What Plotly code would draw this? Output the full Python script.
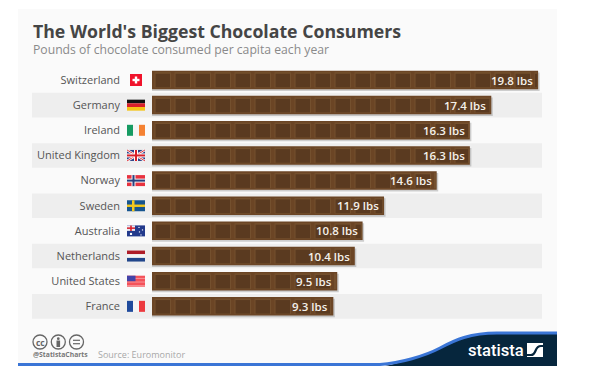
import numpy as np
import plotly.graph_objects as go

countries = ["Switzerland", "Germany", "Ireland", "United Kingdom", "Norway",
             "Sweden", "Australia", "Netherlands", "United States", "France"]
pounds = [19.8, 17.4, 16.3, 16.3, 14.6, 11.9, 10.8, 10.4, 9.5, 9.3]
value_labels = ["19.8 lbs", "17.4 lbs", "16.3 lbs", "16.3 lbs", "14.6 lbs",
                "11.9 lbs", "10.8 lbs", "10.4 lbs", "9.5 lbs", "9.3 lbs"]

W, H = 600, 380
PX = 19.5                 # pixels per pound
X0, AX = 152, 121         # pixel of value 0, pixel of the category axis
ROW0, PITCH = 80, 25.15   # first row centre, row pitch
FONT = "Open Sans"
BAR_OUT, BAR_MID, BAR_IN = "#6b4525", "#74502e", "#5a3a20"


def px(v):
    return v / W


def py(v):
    return 1 - v / H


shapes = []


def rect(x0, y0, x1, y1, color, line=None, lw=0, kind="rect", layer="below"):
    shapes.append(dict(type=kind, xref="paper", yref="paper",
                       x0=px(x0), x1=px(x1), y0=py(y0), y1=py(y1),
                       fillcolor=color, layer=layer,
                       line=dict(color=line or color, width=lw)))


def seg(x0, y0, x1, y1, color, lw):
    shapes.append(dict(type="line", xref="paper", yref="paper", layer="above",
                       x0=px(x0), x1=px(x1), y0=py(y0), y1=py(y1),
                       line=dict(color=color, width=lw)))


# card
rect(18, 9, 557, 366, "#fafafa")

# alternate stripes, on the category axis
for i in range(1, len(countries), 2):
    shapes.append(dict(type="rect", xref="paper", yref="y", layer="below",
                       x0=px(32), x1=px(542), y0=i - 0.5 + 0.01, y1=i + 0.5 - 0.01,
                       fillcolor="#eeeeee", line=dict(width=0)))


def P(x, y):
    return f"{px(x)},{py(y)}"


# footer swoosh
curve = (f"C{P(400, 363)} {P(425, 356)} {P(440, 348)} "
         f"C{P(455, 340)} {P(470, 333)} {P(497, 333)} L{P(557, 333)}")
shapes.append(dict(type="path", xref="paper", yref="paper", layer="below",
                   path=f"M{P(385, 366)} {curve} L{P(557, 366)} Z",
                   fillcolor="#06263d", line=dict(width=0)))
shapes.append(dict(type="path", xref="paper", yref="paper", layer="below",
                   path=f"M{P(18, 364.5)} L{P(380, 364.5)} {curve}",
                   fillcolor="rgba(0,0,0,0)", line=dict(color="#3a75d6", width=3)))


# flags
def flag(i, name):
    cy = ROW0 + PITCH * i
    x0, x1, y0, y1 = 127, 145, cy - 5.5, cy + 5.5
    w, h = x1 - x0, y1 - y0
    kw = dict(layer="above")
    if name == "Switzerland":
        rect(130, cy - 6, 142, cy + 6, "#f0132b", **kw)
        rect(134.8, cy - 3.5, 137.2, cy + 3.5, "#ffffff", **kw)
        rect(132.5, cy - 1.2, 139.5, cy + 1.2, "#ffffff", **kw)
    elif name == "Germany":
        for k, c in enumerate(["#111111", "#d8202a", "#f5c518"]):
            rect(x0, y0 + k * h / 3, x1, y0 + (k + 1) * h / 3, c, **kw)
    elif name in ("Ireland", "France"):
        cols = ["#169b62", "#f5f5f5", "#f58233"] if name == "Ireland" else ["#1f4a9c", "#f5f5f5", "#ec3a3f"]
        for k, c in enumerate(cols):
            rect(x0 + k * w / 3, y0, x0 + (k + 1) * w / 3, y1, c, **kw)
    elif name == "United Kingdom":
        rect(x0, y0, x1, y1, "#2b3f84", **kw)
        seg(x0, y0, x1, y1, "#ffffff", 2.4)
        seg(x0, y1, x1, y0, "#ffffff", 2.4)
        seg(x0, y0, x1, y1, "#d8202a", 0.9)
        seg(x0, y1, x1, y0, "#d8202a", 0.9)
        rect(x0, cy - 2, x1, cy + 2, "#ffffff", **kw)
        rect(134, y0, 138, y1, "#ffffff", **kw)
        rect(x0, cy - 1, x1, cy + 1, "#d8202a", **kw)
        rect(135, y0, 137, y1, "#d8202a", **kw)
    elif name == "Norway":
        rect(x0, y0, x1, y1, "#e8323f", **kw)
        rect(x0, cy - 2, x1, cy + 2, "#f5f5f5", **kw)
        rect(131.5, y0, 135.5, y1, "#f5f5f5", **kw)
        rect(x0, cy - 1, x1, cy + 1, "#27417f", **kw)
        rect(132.5, y0, 134.5, y1, "#27417f", **kw)
    elif name == "Sweden":
        rect(x0, y0, x1, y1, "#17558f", **kw)
        rect(x0, cy - 1.2, x1, cy + 1.2, "#f4c81d", **kw)
        rect(132, y0, 134.5, y1, "#f4c81d", **kw)
    elif name == "Australia":
        rect(x0, y0, x1, y1, "#233a8c", **kw)
        rect(x0, y0, x0 + 8, cy, "#e9e9f2", **kw)
        rect(x0, cy - 3.5, x0 + 8, cy - 2, "#d8202a", **kw)
        rect(x0 + 3.2, y0, x0 + 4.8, cy, "#d8202a", **kw)
        for sx, sy, r in [(131, cy + 3, 1.2), (139, cy - 3.5, .7), (142.5, cy - 1, .7),
                          (139.5, cy + 1, .7), (141, cy + 4, .7)]:
            rect(sx - r, sy - r, sx + r, sy + r, "#ffffff", kind="circle", **kw)
    elif name == "Netherlands":
        for k, c in enumerate(["#ae1c28", "#f5f5f5", "#21468b"]):
            rect(x0, y0 + k * h / 3, x1, y0 + (k + 1) * h / 3, c, **kw)
    elif name == "United States":
        rect(x0, y0, x1, y1, "#f4525a", **kw)
        for k in range(1, 6, 2):
            rect(x0, y0 + k * h / 6 + .4, x1, y0 + (k + 1) * h / 6 - .6, "#f8a0a4", **kw)
        rect(x0, y0, x0 + 8.5, cy, "#4343a8", **kw)


for i, c in enumerate(countries):
    flag(i, c)

# licence icons
for cx in (40, 58.3, 76.5):
    rect(cx - 7, 335, cx + 7, 349, "rgba(0,0,0,0)", line="#666666", lw=1.3, kind="circle", layer="above")
rect(56.9, 337.3, 59.7, 340, "#666666", kind="circle", layer="above")
rect(56.5, 340.5, 60.1, 347, "#666666", layer="above")
rect(73, 339.7, 80, 340.9, "#666666", layer="above")
rect(73, 343.1, 80, 344.3, "#666666", layer="above")

# statista logo mark
rect(527, 343, 543, 357, "#ffffff", layer="above")
shapes.append(dict(type="path", xref="paper", yref="paper", layer="above",
                   path=f"M{P(527, 355)} L{P(531, 355)} C{P(537, 355)} {P(534, 346)} {P(541, 346)} L{P(543, 346)}",
                   fillcolor="rgba(0,0,0,0)", line=dict(color="#06263d", width=2.2)))

# chocolate squares, built from the values through the x axis
pitch_val, gap_val = 20 / PX, 2.5 / PX
sq_w, sq_y, sq_b = [], [], []
for c, v in zip(countries, pounds):
    for s in np.arange(0, v, pitch_val):
        left = s + gap_val
        right = min(s + pitch_val - 1.0 / PX, v - 0.8 / PX)
        if right > left:
            sq_b.append(left)
            sq_w.append(right - left)
            sq_y.append(c)

fig = go.Figure()
# soft shadow
fig.add_bar(y=countries, x=[v + 1.5 / PX for v in pounds], orientation="h",
            marker=dict(color="rgba(120,120,120,0.35)", line_width=0),
            width=0.735, offset=-0.3, hoverinfo="skip")
# bar body
fig.add_bar(y=countries, x=pounds, orientation="h",
            marker=dict(color=BAR_OUT, line_width=0), width=0.735, offset=-0.37, hoverinfo="skip")
# lit square rims
fig.add_bar(y=sq_y, x=sq_w, base=sq_b, orientation="h",
            marker=dict(color=BAR_MID, line_width=0), width=0.62, offset=-0.31, hoverinfo="skip")
# square faces
fig.add_bar(y=sq_y, x=[max(w - 2.0 / PX, 0) for w in sq_w], base=[b + 1.0 / PX for b in sq_b], orientation="h",
            marker=dict(color=BAR_IN, line_width=0), width=0.54, offset=-0.25, hoverinfo="skip")


def note(x, y, text, size, color, weight=400, anchor="left", family=FONT):
    return dict(xref="paper", yref="paper", x=px(x), y=py(y), text=text, showarrow=False,
                xanchor=anchor, yanchor="middle", borderpad=0,
                font=dict(family=family, size=size, color=color, weight=weight))


annotations = [
    note(32, 31, "The World's Biggest Chocolate Consumers", 17.7, "#454545", 700),
    note(32, 49, "Pounds of chocolate consumed per capita each year", 12.2, "#8a8a8a"),
    note(31.5, 354, "@StatistaCharts", 6.8, "#777777", 700),
    note(97, 354, "Source: Euromonitor", 9, "#a8a8a8"),
    note(467, 350, "statista", 16.6, "#ffffff", 500, family="Roboto"),
    note(40, 342, "cc", 8.5, "#666666", 700, anchor="center"),
]
# value labels, placed on the axes at each bar's end
for c, v, t in zip(countries, pounds, value_labels):
    annotations.append(dict(xref="x", yref="y", x=v, y=c, text=t, showarrow=False,
                            xanchor="right", yanchor="middle", xshift=-4, yshift=0, borderpad=0,
                            font=dict(family=FONT, size=11.5, color="#f4f0ea", weight=600)))

fig.update_layout(
    width=W, height=H, autosize=False, showlegend=False, barmode="overlay",
    margin=dict(l=0, r=0, t=0, b=0, pad=0),
    paper_bgcolor="#ffffff", plot_bgcolor="rgba(0,0,0,0)",
    shapes=shapes, annotations=annotations,
    xaxis=dict(domain=[AX / W, 1], range=[(AX - X0) / PX, (W - X0) / PX], visible=False, fixedrange=True),
    yaxis=dict(type="category", categoryorder="array", categoryarray=countries,
               range=[(H - ROW0) / PITCH, -ROW0 / PITCH],
               showgrid=False, zeroline=False, showline=False, ticks="", ticklen=0,
               tickfont=dict(family=FONT, size=11, color="#555555"), fixedrange=True),
)
fig.write_html("out.html", config=dict(displayModeBar=False),
               post_script="document.body.style.margin='0';document.documentElement.style.overflow='hidden';")
